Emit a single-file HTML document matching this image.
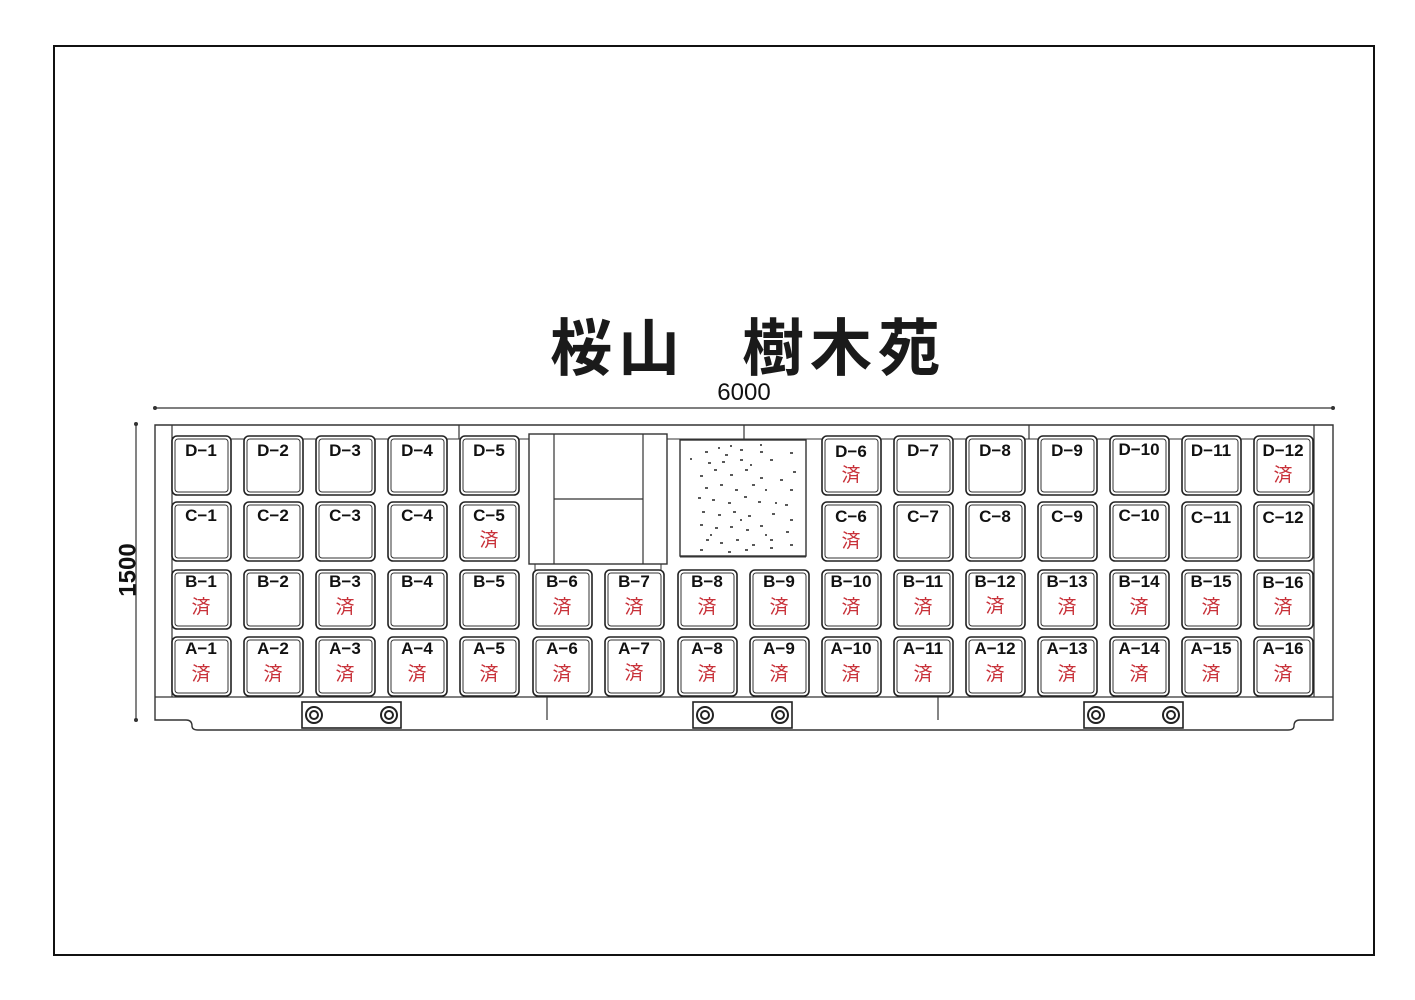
<!DOCTYPE html>
<html><head><meta charset="utf-8"><style>
html,body{margin:0;padding:0;background:#fff;}
svg{display:block;}
.l{font-family:"Liberation Sans",sans-serif;font-weight:bold;font-size:17px;fill:#111;text-anchor:middle;}
.s{font-family:"Liberation Sans","Noto Sans CJK JP",sans-serif;font-size:19px;fill:#c8323a;text-anchor:middle;}
</style></head><body>
<svg width="1415" height="1000" viewBox="0 0 1415 1000" xmlns="http://www.w3.org/2000/svg">
<defs>
<g id="c"><rect x="0" y="0" width="59" height="59" rx="5" fill="#fff" stroke="#222" stroke-width="1.6"/><rect x="3" y="3" width="53" height="53" rx="3" fill="none" stroke="#333" stroke-width="1"/></g>
</defs>
<rect x="54" y="46" width="1320" height="909" fill="none" stroke="#111" stroke-width="2"/>
<text x="550" y="370" font-family="'Liberation Sans','Noto Sans CJK JP',sans-serif" font-weight="bold" font-size="62" fill="#1a1a1a" letter-spacing="6">桜山</text>
<text x="742" y="370" font-family="'Liberation Sans','Noto Sans CJK JP',sans-serif" font-weight="bold" font-size="62" fill="#1a1a1a" letter-spacing="6">樹木苑</text>
<text x="744" y="400" font-family="'Liberation Sans',sans-serif" font-size="24" fill="#111" text-anchor="middle">6000</text>
<line x1="155" y1="408" x2="1333" y2="408" stroke="#333" stroke-width="1.2"/>
<circle cx="155" cy="408" r="2" fill="#333"/><circle cx="1333" cy="408" r="2" fill="#333"/>
<line x1="136" y1="424" x2="136" y2="720" stroke="#333" stroke-width="1.2"/>
<circle cx="136" cy="424" r="2" fill="#333"/><circle cx="136" cy="720" r="2" fill="#333"/>
<text x="129" y="570" font-family="'Liberation Sans',sans-serif" font-weight="bold" font-size="24" fill="#111" text-anchor="middle" transform="rotate(-90 129 570)" dominant-baseline="middle">1500</text>
<path d="M155,425 H1333 V720 H1300 Q1294,720 1294,726 Q1294,730 1288,730 H198 Q192,730 192,726 Q192,720 186,720 H155 Z" fill="#fff" stroke="#333" stroke-width="1.4"/>
<line x1="155" y1="697" x2="1333" y2="697" stroke="#333" stroke-width="1.2"/>
<line x1="172" y1="425" x2="172" y2="697" stroke="#333" stroke-width="1.2"/>
<line x1="1314" y1="425" x2="1314" y2="697" stroke="#333" stroke-width="1.2"/>
<line x1="172" y1="439" x2="1314" y2="439" stroke="#333" stroke-width="1"/>
<line x1="459" y1="425" x2="459" y2="439" stroke="#333" stroke-width="1.2"/>
<line x1="744" y1="425" x2="744" y2="439" stroke="#333" stroke-width="1.2"/>
<line x1="1029" y1="425" x2="1029" y2="439" stroke="#333" stroke-width="1.2"/>
<line x1="547" y1="697" x2="547" y2="720" stroke="#333" stroke-width="1.2"/>
<line x1="938" y1="697" x2="938" y2="720" stroke="#333" stroke-width="1.2"/>
<g stroke="#222" fill="#fff" stroke-width="1.6">
<rect x="302" y="702" width="99" height="26"/><rect x="693" y="702" width="99" height="26"/><rect x="1084" y="702" width="99" height="26"/>
</g>
<g stroke="#222" fill="none" stroke-width="2">
<circle cx="314" cy="715" r="8"/><circle cx="314" cy="715" r="4"/><circle cx="389" cy="715" r="8"/><circle cx="389" cy="715" r="4"/>
<circle cx="705" cy="715" r="8"/><circle cx="705" cy="715" r="4"/><circle cx="780" cy="715" r="8"/><circle cx="780" cy="715" r="4"/>
<circle cx="1096" cy="715" r="8"/><circle cx="1096" cy="715" r="4"/><circle cx="1171" cy="715" r="8"/><circle cx="1171" cy="715" r="4"/>
</g>
<rect x="529" y="434" width="138" height="130" fill="#fff" stroke="#333" stroke-width="1.4"/>
<line x1="554" y1="434" x2="554" y2="564" stroke="#333" stroke-width="1.2"/>
<line x1="643" y1="434" x2="643" y2="564" stroke="#333" stroke-width="1.2"/>
<line x1="554" y1="499" x2="643" y2="499" stroke="#333" stroke-width="1.2"/>
<line x1="535" y1="564" x2="535" y2="572" stroke="#333"/><line x1="661" y1="564" x2="661" y2="572" stroke="#333"/>
<rect x="680" y="440" width="126" height="116" fill="#fff" stroke="#333" stroke-width="1.4"/>
<line x1="680" y1="557" x2="806" y2="557" stroke="#333"/>
<g stroke="#222" stroke-width="1.4">
<path d="M690,459h2M705,452h3M718,448h2M730,446h2M740,450h3M760,452h3M790,453h3M708,463h3M722,462h3M740,460h3M770,460h3M793,472h3M700,476h3M714,470h3M730,475h3M745,470h3M760,478h3M780,480h3M705,488h3M720,485h3M735,490h3M752,485h3M790,490h3M698,498h3M712,500h3M728,503h3M744,497h3M758,502h3M785,505h3M702,512h3M718,515h3M733,512h3M748,516h3M772,514h3M790,520h3M700,525h3M715,528h3M730,527h3M746,530h3M760,526h3M786,532h3M706,540h3M720,543h3M736,540h3M752,545h3M770,540h3M790,545h3M700,550h3M728,552h3M745,550h3M770,548h3M760,445h2M725,455h3M750,465h2M765,490h2M775,503h2M710,535h2M740,520h2M765,535h2"/>
</g>
<g>
<use href="#c" x="172" y="436"/><text class="l" x="201" y="456">D−1</text>
<use href="#c" x="244" y="436"/><text class="l" x="273" y="456">D−2</text>
<use href="#c" x="316" y="436"/><text class="l" x="345" y="456">D−3</text>
<use href="#c" x="388" y="436"/><text class="l" x="417" y="456">D−4</text>
<use href="#c" x="460" y="436"/><text class="l" x="489" y="456">D−5</text>
<use href="#c" x="822" y="436"/><text class="l" x="851" y="457">D−6</text><text class="s" x="851" y="481">済</text>
<use href="#c" x="894" y="436"/><text class="l" x="923" y="456">D−7</text>
<use href="#c" x="966" y="436"/><text class="l" x="995" y="456">D−8</text>
<use href="#c" x="1038" y="436"/><text class="l" x="1067" y="456">D−9</text>
<use href="#c" x="1110" y="436"/><text class="l" x="1139" y="455">D−10</text>
<use href="#c" x="1182" y="436"/><text class="l" x="1211" y="456">D−11</text>
<use href="#c" x="1254" y="436"/><text class="l" x="1283" y="456">D−12</text><text class="s" x="1283" y="481">済</text>
</g>
<g>
<use href="#c" x="172" y="502"/><text class="l" x="201" y="521">C−1</text>
<use href="#c" x="244" y="502"/><text class="l" x="273" y="521">C−2</text>
<use href="#c" x="316" y="502"/><text class="l" x="345" y="521">C−3</text>
<use href="#c" x="388" y="502"/><text class="l" x="417" y="521">C−4</text>
<use href="#c" x="460" y="502"/><text class="l" x="489" y="521">C−5</text><text class="s" x="489" y="546">済</text>
<use href="#c" x="822" y="502"/><text class="l" x="851" y="522">C−6</text><text class="s" x="851" y="547">済</text>
<use href="#c" x="894" y="502"/><text class="l" x="923" y="522">C−7</text>
<use href="#c" x="966" y="502"/><text class="l" x="995" y="522">C−8</text>
<use href="#c" x="1038" y="502"/><text class="l" x="1067" y="522">C−9</text>
<use href="#c" x="1110" y="502"/><text class="l" x="1139" y="521">C−10</text>
<use href="#c" x="1182" y="502"/><text class="l" x="1211" y="523">C−11</text>
<use href="#c" x="1254" y="502"/><text class="l" x="1283" y="523">C−12</text>
</g>
<g>
<use href="#c" x="172" y="570"/><text class="l" x="201" y="587">B−1</text><text class="s" x="201" y="613">済</text>
<use href="#c" x="244" y="570"/><text class="l" x="273" y="587">B−2</text>
<use href="#c" x="316" y="570"/><text class="l" x="345" y="587">B−3</text><text class="s" x="345" y="613">済</text>
<use href="#c" x="388" y="570"/><text class="l" x="417" y="587">B−4</text>
<use href="#c" x="460" y="570"/><text class="l" x="489" y="587">B−5</text>
<use href="#c" x="533" y="570"/><text class="l" x="562" y="587">B−6</text><text class="s" x="562" y="613">済</text>
<use href="#c" x="605" y="570"/><text class="l" x="634" y="587">B−7</text><text class="s" x="634" y="613">済</text>
<use href="#c" x="678" y="570"/><text class="l" x="707" y="587">B−8</text><text class="s" x="707" y="613">済</text>
<use href="#c" x="750" y="570"/><text class="l" x="779" y="587">B−9</text><text class="s" x="779" y="613">済</text>
<use href="#c" x="822" y="570"/><text class="l" x="851" y="587">B−10</text><text class="s" x="851" y="613">済</text>
<use href="#c" x="894" y="570"/><text class="l" x="923" y="587">B−11</text><text class="s" x="923" y="613">済</text>
<use href="#c" x="966" y="570"/><text class="l" x="995" y="587">B−12</text><text class="s" x="995" y="612">済</text>
<use href="#c" x="1038" y="570"/><text class="l" x="1067" y="587">B−13</text><text class="s" x="1067" y="613">済</text>
<use href="#c" x="1110" y="570"/><text class="l" x="1139" y="587">B−14</text><text class="s" x="1139" y="613">済</text>
<use href="#c" x="1182" y="570"/><text class="l" x="1211" y="587">B−15</text><text class="s" x="1211" y="613">済</text>
<use href="#c" x="1254" y="570"/><text class="l" x="1283" y="588">B−16</text><text class="s" x="1283" y="613">済</text>
</g>
<g>
<use href="#c" x="172" y="637"/><text class="l" x="201" y="654">A−1</text><text class="s" x="201" y="680">済</text>
<use href="#c" x="244" y="637"/><text class="l" x="273" y="654">A−2</text><text class="s" x="273" y="680">済</text>
<use href="#c" x="316" y="637"/><text class="l" x="345" y="654">A−3</text><text class="s" x="345" y="680">済</text>
<use href="#c" x="388" y="637"/><text class="l" x="417" y="654">A−4</text><text class="s" x="417" y="680">済</text>
<use href="#c" x="460" y="637"/><text class="l" x="489" y="654">A−5</text><text class="s" x="489" y="680">済</text>
<use href="#c" x="533" y="637"/><text class="l" x="562" y="654">A−6</text><text class="s" x="562" y="680">済</text>
<use href="#c" x="605" y="637"/><text class="l" x="634" y="654">A−7</text><text class="s" x="634" y="679">済</text>
<use href="#c" x="678" y="637"/><text class="l" x="707" y="654">A−8</text><text class="s" x="707" y="680">済</text>
<use href="#c" x="750" y="637"/><text class="l" x="779" y="654">A−9</text><text class="s" x="779" y="680">済</text>
<use href="#c" x="822" y="637"/><text class="l" x="851" y="654">A−10</text><text class="s" x="851" y="680">済</text>
<use href="#c" x="894" y="637"/><text class="l" x="923" y="654">A−11</text><text class="s" x="923" y="680">済</text>
<use href="#c" x="966" y="637"/><text class="l" x="995" y="654">A−12</text><text class="s" x="995" y="680">済</text>
<use href="#c" x="1038" y="637"/><text class="l" x="1067" y="654">A−13</text><text class="s" x="1067" y="680">済</text>
<use href="#c" x="1110" y="637"/><text class="l" x="1139" y="654">A−14</text><text class="s" x="1139" y="680">済</text>
<use href="#c" x="1182" y="637"/><text class="l" x="1211" y="654">A−15</text><text class="s" x="1211" y="680">済</text>
<use href="#c" x="1254" y="637"/><text class="l" x="1283" y="654">A−16</text><text class="s" x="1283" y="680">済</text>
</g>
</svg>
</body></html>
